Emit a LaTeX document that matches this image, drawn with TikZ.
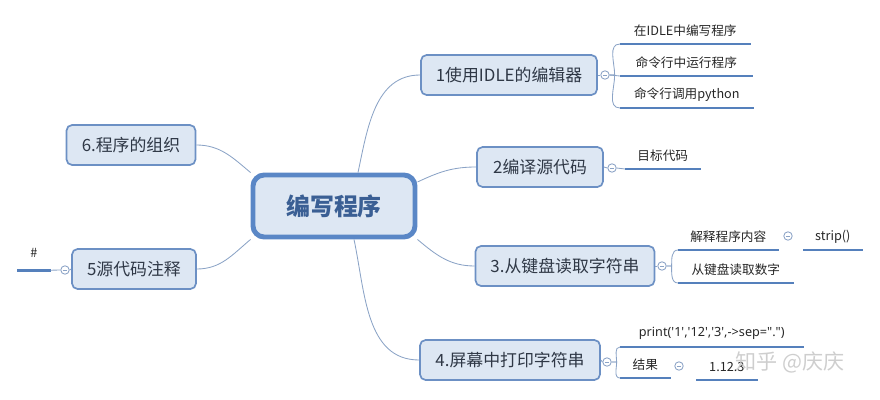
\documentclass[tikz,border=0pt]{standalone}
\usepackage{fontspec}
\setmainfont{Noto Sans CJK SC}
\newfontfamily\latein{Noto Sans}
\usetikzlibrary{positioning}
\definecolor{hauptblau}{HTML}{5A87C6}
\definecolor{hauptfill}{HTML}{DDE7F3}
\definecolor{haupttext}{HTML}{3A5F94}
\definecolor{astblau}{HTML}{6C90C4}
\definecolor{asttext}{HTML}{2F3846}
\definecolor{linie}{HTML}{8BA3C6}
\definecolor{unterlinie}{HTML}{5580BC}
\tikzset{
  haupt/.style={draw=hauptblau, fill=hauptfill, line width=3.5pt, rounded corners=8pt,
    minimum width=4.05cm, minimum height=1.55cm, text=haupttext,
    font=\fontsize{17}{20}\selectfont\bfseries},
  ast/.style={draw=astblau, fill=hauptfill, line width=1.2pt, rounded corners=4pt,
    minimum height=1cm, inner sep=0pt, text=asttext, font=\fontsize{12}{15}\selectfont},
  zweig/.style={draw=linie, line width=0.6pt},
  unter/.style={anchor=south west, inner sep=0pt, minimum height=0.65cm,
    text=black!85, font=\fontsize{9}{11}\selectfont},
  unterstrich/.style={draw=unterlinie, line width=2pt},
  knopf/.style={circle, draw=linie, fill=white, line width=0.6pt, inner sep=0pt, minimum size=6pt,
    path picture={\draw[linie,line width=0.5pt] ([xshift=1.4pt]path picture bounding box.west)
      -- ([xshift=-1.4pt]path picture bounding box.east);}},
}
\begin{document}
\begin{tikzpicture}[x=0.025cm,y=-0.025cm]
\useasboundingbox (0,0) rectangle (880,400);
%Hauptthema und Aeste
\node[haupt] (haupt) at (334,206) {编写程序};
\node[ast, minimum width=4.4cm]   (t1) at (509,75)  {1使用IDLE的编辑器};
\node[ast, minimum width=3.15cm]  (t2) at (540,167) {2编译源代码};
\node[ast, minimum width=4.475cm] (t3) at (565,266) {3.从键盘读取字符串};
\node[ast, minimum width=4.5cm]   (t4) at (510,360) {4.屏幕中打印字符串};
\node[ast, minimum width=3.1cm]   (t5) at (134,269) {5源代码注释};
\node[ast, minimum width=3.225cm] (t6) at (131,145) {6.程序的组织};
\draw[zweig] ([xshift=0.6cm]haupt.north) to[out=78,in=180] (t1.west);
\draw[zweig] ([yshift=0.6cm]haupt.east) to[out=25,in=180] (t2.west);
\draw[zweig] (haupt.south east) to[out=-40,in=180] (t3.west);
\draw[zweig] ([xshift=0.5cm]haupt.south) to[out=-78,in=180] (t4.west);
\draw[zweig] (t5.east) to[out=0,in=-140] (haupt.south west);
\draw[zweig] (t6.east) to[out=0,in=140] (haupt.north west);
%Knoepfe zum Einklappen
\node[knopf] (f1) at (605,75) {};
\node[knopf] (f2) at (612,168) {};
\node[knopf] (f3) at (662,266) {};
\node[knopf] (f4) at (607,362) {};
\node[knopf] (f5) at (65,270) {};
\node[knopf] (f31) at (788,236) {};
\node[knopf] (f42) at (679,366) {};
%Unterthemen (Anker: Anfang der Linie)
\node[unter, minimum width=3.25cm]  (s11) at (620,44)  {在IDLE中编写程序};
\node[unter, minimum width=3.3cm]   (s12) at (620,76)  {命令行中运行程序};
\node[unter, minimum width=3.325cm] (s13) at (620,108) {命令行调用python};
\node[unter, minimum width=1.875cm] (s21) at (625,169) {目标代码};
\node[unter, minimum width=2.5cm]   (s31) at (678,250) {解释程序内容};
\node[unter, minimum width=1.475cm] (s311) at (803,250) {strip()};
\node[unter, minimum width=2.875cm] (s32) at (678,283) {从键盘读取数字};
\node[unter, minimum width=4.575cm] (s41) at (620,347) {\latein print('1','12','3',->sep=".")};
\node[unter, minimum width=1.25cm]  (s42) at (620,378) {结果};
\node[unter, minimum width=1.525cm] (s421) at (696,380) {1.12.3};
\node[unter, minimum width=0.825cm] (s51) at (17,266)  {\#};
\foreach \s in {s11,s12,s13,s21,s31,s311,s32,s41,s42,s421}{
  \draw[unterstrich] (\s.south west) -- (\s.south east);
}
\draw[unterstrich] ([yshift=-3pt]s51.south west) -- ([yshift=-3pt]s51.south east);
\draw[zweig] (t1.east) -- (f1.west);
\draw[zweig] (t2.east) -- (f2.west);
\draw[zweig] (t3.east) -- (f3.west);
\draw[zweig] (t4.east) -- (f4.west);
\draw[zweig] (t5.west) -- (f5.east);
\draw[zweig] (f5.west) -- ([yshift=-3pt]s51.south east);
\draw[zweig] (f1.east) -- (s12.south west);
\draw[zweig] (f1.east) -- ++(5,0) to[out=90,in=180] (s11.south west);
\draw[zweig] (f1.east) -- ++(5,0) to[out=-90,in=180] (s13.south west);
\draw[zweig] (f2.east) -- (s21.south west);
\draw[zweig] (f3.east) -- ++(5,0) to[out=90,in=180] (s31.south west);
\draw[zweig] (f3.east) -- ++(5,0) to[out=-90,in=180] (s32.south west);
\draw[zweig] (f4.east) -- ++(5,0) to[out=90,in=180] (s41.south west);
\draw[zweig] (f4.east) -- ++(5,0) to[out=-90,in=180] (s42.south west);
%Wasserzeichen
\node[text=gray!45, opacity=0.85, font=\fontsize{15}{18}\selectfont] (wz) at (790,362) {知乎 @庆庆};
\end{tikzpicture}
\end{document}
